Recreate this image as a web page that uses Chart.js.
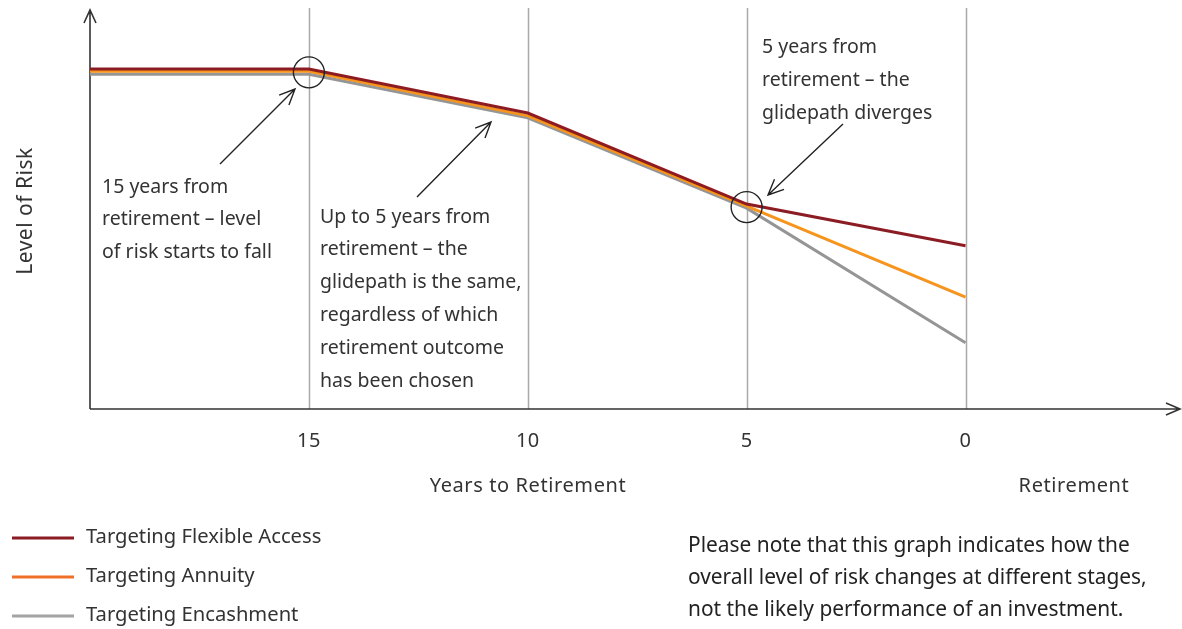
<!DOCTYPE html>
<html>
<head>
<meta charset="utf-8">
<script src="https://cdn.jsdelivr.net/npm/chart.js@4"></script>
<style>
  html, body { margin: 0; padding: 0; background: #fff; }
  #wrap { width: 1182px; height: 629px; }
</style>
</head>
<body>
<div id="wrap"><canvas id="riskChart" width="1182" height="629"></canvas></div>
<script>
const years = [20, 15, 10, 5, 0];
const flexibleAccess = [84.8, 84.8, 73.8, 51.1, 40.7];
const annuity = [84.2, 84.2, 73.1, 50.6, 27.9];
const encashment = [83.5, 83.5, 72.6, 50.1, 16.5];
const tickYears = [15, 10, 5, 0];
const seriesNames = ["Targeting Flexible Access", "Targeting Annuity", "Targeting Encashment"];

const FONT = "'Noto Sans', sans-serif";
const TEXT = "#333";

function toPoints(values) {
  return years.map((yr, i) => ({ x: yr, y: values[i] }));
}

function arrow(ctx, x1, y1, x2, y2) {
  const ang = Math.atan2(y2 - y1, x2 - x1);
  const len = 17, spread = 0.42;
  ctx.beginPath();
  ctx.moveTo(x1, y1);
  ctx.lineTo(x2, y2);
  ctx.moveTo(x2 - len * Math.cos(ang - spread), y2 - len * Math.sin(ang - spread));
  ctx.lineTo(x2, y2);
  ctx.lineTo(x2 - len * Math.cos(ang + spread), y2 - len * Math.sin(ang + spread));
  ctx.stroke();
}

function textLines(ctx, lines, x, y, gap) {
  lines.forEach((t, i) => ctx.fillText(t, x, y + i * gap));
}

function setFont(ctx, size, spacing) {
  ctx.font = size + "px " + FONT;
  ctx.letterSpacing = (spacing || 0) + "px";
}

const backdrop = {
  id: "backdrop",
  beforeDatasetsDraw(chart) {
    const { ctx, chartArea: a, scales: { x } } = chart;
    ctx.save();
    // vertical gridlines at tick years
    ctx.strokeStyle = "#a9a9a9";
    ctx.lineWidth = 1.5;
    tickYears.forEach((yr) => {
      const px = Math.round(x.getPixelForValue(yr)) + 0.5;
      ctx.beginPath();
      ctx.moveTo(px, a.top);
      ctx.lineTo(px, a.bottom);
      ctx.stroke();
    });
    // axes with open arrow heads
    ctx.strokeStyle = "#333";
    ctx.lineWidth = 1.6;
    ctx.beginPath();
    ctx.moveTo(a.left, a.bottom);
    ctx.lineTo(a.left, a.top + 2);
    ctx.moveTo(a.left - 6, a.top + 15);
    ctx.lineTo(a.left, a.top + 2);
    ctx.lineTo(a.left + 6, a.top + 15);
    ctx.moveTo(a.left, a.bottom);
    ctx.lineTo(a.right, a.bottom);
    ctx.moveTo(a.right - 14, a.bottom - 6);
    ctx.lineTo(a.right, a.bottom);
    ctx.lineTo(a.right - 14, a.bottom + 6);
    ctx.stroke();
    ctx.restore();
  },
  afterDatasetsDraw(chart) {
    const { ctx, scales: { x, y } } = chart;
    ctx.save();
    // circles at the turning points
    ctx.strokeStyle = "#222";
    ctx.lineWidth = 1.4;
    [[15, annuity[1]], [5, annuity[3]]].forEach(([yr, v]) => {
      ctx.beginPath();
      ctx.arc(x.getPixelForValue(yr), y.getPixelForValue(v) + 1, 15.5, 0, Math.PI * 2);
      ctx.stroke();
    });
    // annotation arrows
    ctx.lineWidth = 1.4;
    arrow(ctx, 220, 164, 295, 89);
    arrow(ctx, 417, 197, 491, 122);
    arrow(ctx, 843, 124, 768, 195);

    ctx.fillStyle = TEXT;
    ctx.textBaseline = "middle";
    ctx.textAlign = "left";
    setFont(ctx, 19.5, 0);
    textLines(ctx, ["15 years from", "retirement \u2013 level", "of risk starts to fall"], 102, 187, 32.5);
    textLines(ctx, ["Up to 5 years from", "retirement \u2013 the", "glidepath is the same,",
      "regardless of which", "retirement outcome", "has been chosen"], 320, 217, 32.8);
    textLines(ctx, ["5 years from", "retirement \u2013 the", "glidepath diverges"], 762, 47, 33);

    // x tick labels and axis titles
    ctx.textAlign = "center";
    setFont(ctx, 20, 0.4);
    tickYears.forEach((yr) => ctx.fillText(String(yr), x.getPixelForValue(yr), 441));
    setFont(ctx, 20, 0.6);
    ctx.fillText("Years to Retirement", 528, 486);
    ctx.fillText("Retirement", 1074, 486);

    // y axis title
    ctx.save();
    ctx.translate(26, 211);
    ctx.rotate(-Math.PI / 2);
    setFont(ctx, 21, 0.5);
    ctx.fillText("Level of Risk", 0, 0);
    ctx.restore();

    // legend
    const legendColors = ["#8c1c24", "#ef7029", "#a3a3a3"];
    ctx.textAlign = "left";
    setFont(ctx, 20.2, 0);
    seriesNames.forEach((name, i) => {
      const ly = 538 + i * 39;
      ctx.strokeStyle = legendColors[i];
      ctx.lineWidth = 3;
      ctx.beginPath();
      ctx.moveTo(12, ly);
      ctx.lineTo(74, ly);
      ctx.stroke();
      ctx.fillText(name, 86, ly - 1);
    });

    // note
    ctx.fillStyle = "#222";
    setFont(ctx, 20.9, 0);
    textLines(ctx, ["Please note that this graph indicates how the",
      "overall level of risk changes at different stages,",
      "not the likely performance of an investment."], 688, 546, 32);
    ctx.restore();
  }
};

new Chart(document.getElementById("riskChart"), {
  type: "line",
  data: {
    datasets: [
      { label: seriesNames[0], data: toPoints(flexibleAccess), borderColor: "#8c1c24" },
      { label: seriesNames[1], data: toPoints(annuity), borderColor: "#f7941d" },
      { label: seriesNames[2], data: toPoints(encashment), borderColor: "#959595" }
    ]
  },
  options: {
    responsive: false,
    animation: false,
    layout: { padding: { left: 90, right: 2, top: 8, bottom: 220 } },
    elements: {
      line: { borderWidth: 3, tension: 0, borderJoinStyle: "miter" },
      point: { radius: 0 }
    },
    datasets: { line: { clip: false } },
    scales: {
      x: { type: "linear", reverse: true, min: -4.9, max: 20, display: false },
      y: { min: 0, max: 100, display: false }
    },
    plugins: { legend: { display: false }, tooltip: { enabled: false } }
  },
  plugins: [backdrop]
});
</script>
</body>
</html>
